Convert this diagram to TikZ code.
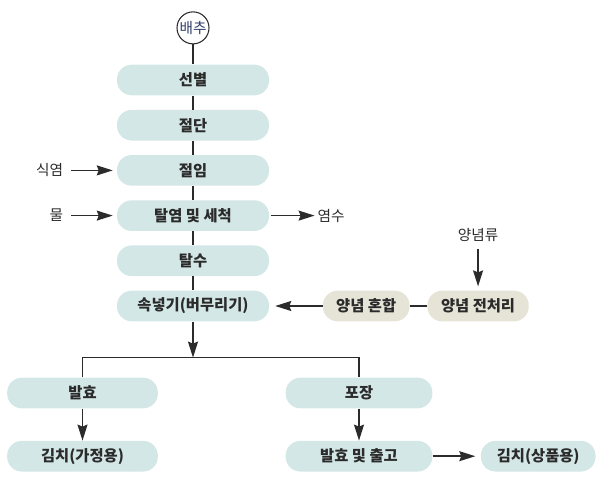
\documentclass[tikz,border=0pt]{standalone}
\usepackage{fontspec}
\setmainfont{Noto Sans CJK KR}
\usetikzlibrary{arrows.meta,positioning}
\definecolor{kimchiteal}{HTML}{D4E7E7}
\definecolor{kimchisand}{HTML}{E6E4D6}
\definecolor{kimchiink}{HTML}{2B2B2B}
\definecolor{kimchinavy}{HTML}{33406A}
\tikzset{
  flow/.style={-{Stealth[length=12pt,width=7.5pt,inset=1.5pt]},line width=1.1pt,draw=kimchiink},
  feed/.style={flow,shorten <=4pt,shorten >=3pt},
  link/.style={line width=1.1pt,draw=kimchiink},
  box/.style={rounded corners=11pt,align=center,minimum height=23pt,inner sep=2pt,font=\fontsize{11.5}{13}\selectfont\bfseries,text=kimchiink},
  stage/.style={box,fill=kimchiteal,minimum width=114pt},
  spice/.style={box,fill=kimchisand},
  tag/.style={inner sep=2pt,font=\fontsize{11}{13}\selectfont,text=kimchiink},
  source/.style={circle,draw=kimchiink,line width=0.8pt,minimum size=24pt,inner sep=0pt,font=\fontsize{11}{13}\selectfont,text=kimchinavy}
}

\begin{document}
\begin{tikzpicture}[x=0.75pt,y=-0.75pt,node distance=10.5pt and 36pt]
  \useasboundingbox (0,0) rectangle (600,482);
  % main line
  \node[stage] (select) at (193,80) {선별};
  \node[source,above=15pt of select] (cabbage) {배추};
  \node[stage,below=of select] (cut) {절단};
  \node[stage,below=of cut] (salting) {절임};
  \node[stage,below=of salting] (rinse) {탈염 및 세척};
  \node[stage,below=of rinse] (drain) {탈수};
  \node[stage,below=of drain] (stuff) {속넣기(버무리기)};
  % side inputs
  \node[tag,left=38pt of salting] (salt) {식염};
  \node[tag,left=38pt of rinse] (water) {물};
  \node[tag,right=34pt of rinse] (brine) {염수};
  \node[spice,minimum width=65pt,right=40pt of stuff] (mix) {양념 혼합};
  \node[spice,minimum width=76pt,right=13pt of mix] (prep) {양념 전처리};
  \node[tag,above=34pt of prep] (spices) {양념류};
  % two outlets
  \coordinate[below=27pt of stuff] (split);
  \node[stage,minimum width=113pt] (ferment) at (82.5,393) {발효};
  \node[stage,minimum width=113pt,below=24pt of ferment] (home) {김치(가정용)};
  \node[stage,minimum width=110pt] (pack) at (359,393) {포장};
  \node[stage,minimum width=110pt,below=24pt of pack] (ship) {발효 및 출고};
  \node[stage,minimum width=86pt,right=36pt of ship] (sale) {김치(상품용)};

  \draw[link] (cabbage) -- (select);
  \draw[link] (select) -- (cut);
  \draw[link] (cut) -- (salting);
  \draw[link] (salting) -- (rinse);
  \draw[link] (rinse) -- (drain);
  \draw[link] (drain) -- (stuff);
  \draw[feed] (salt) -- (salting);
  \draw[feed] (water) -- (rinse);
  \draw[flow,shorten <=1pt] (rinse) -- (brine);
  \draw[flow,shorten >=4.5pt] (mix) -- (stuff);
  \draw[link] (prep) -- (mix);
  \draw[flow,shorten <=3pt,shorten >=3pt] (spices) -- (prep);
  \draw[flow] (stuff) -- (split);
  \draw[link] (ferment.north) -- (ferment.north |- split) -- (pack.north |- split) -- (pack.north);
  \draw[flow] (ferment) -- (home);
  \draw[flow] (pack) -- (ship);
  \draw[flow,shorten >=4pt] (ship) -- (sale);
\end{tikzpicture}
\end{document}
